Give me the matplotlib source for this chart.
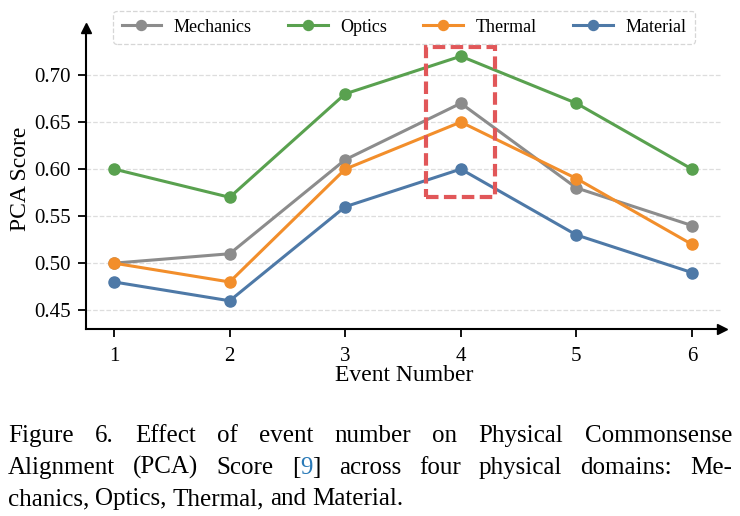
import numpy as np
import matplotlib.pyplot as plt
from matplotlib.patches import Rectangle

plt.rcParams['font.family'] = ['Liberation Serif', 'DejaVu Serif']

events = [1, 2, 3, 4, 5, 6]
mechanics = [0.50, 0.51, 0.61, 0.67, 0.58, 0.54]
optics = [0.60, 0.57, 0.68, 0.72, 0.67, 0.60]
thermal = [0.50, 0.48, 0.60, 0.65, 0.59, 0.52]
material = [0.48, 0.46, 0.56, 0.60, 0.53, 0.49]
yticks = [0.45, 0.50, 0.55, 0.60, 0.65, 0.70]

series = [
    ("Mechanics", mechanics, "#8c8c8c"),
    ("Optics", optics, "#59a14f"),
    ("Thermal", thermal, "#f28e2b"),
    ("Material", material, "#4e79a7"),
]

caption = [
    "Figure 6.  Effect of event number on Physical Commonsense",
    "Alignment (PCA) Score [9] across four physical domains: Me-",
    "chanics, Optics, Thermal, and Material.",
]

W, H = 740, 516
fig = plt.figure(figsize=(W / 100, H / 100), dpi=100)
ax = fig.add_axes([86 / W, (H - 329) / H, (722 - 86) / W, 301 / H])

for name, vals, col in series:
    ax.plot(events, vals, '-o', color=col, lw=2.2, ms=8, label=name)

ax.add_patch(Rectangle((3.7, 0.57), 0.6, 0.16, fill=False, ec="#e15759",
                       lw=3, ls=(0, (3, 1.3)), zorder=5))

ax.set_xlim(0.757, 6.26)
ax.set_ylim(0.43, 0.75)
ax.set_xticks(events)
ax.set_yticks(yticks)
ax.set_yticklabels([f"{v:.2f}" for v in yticks])
ax.tick_params(labelsize=15, length=6, width=1.3, pad=5)
ax.tick_params(axis='x', pad=7)
ax.grid(axis='y', ls='--', color='#dddddd', lw=0.9)
ax.set_axisbelow(True)
for s in ['top', 'right']:
    ax.spines[s].set_visible(False)
for s in ['left', 'bottom']:
    ax.spines[s].set_linewidth(1.5)

# arrow heads on the axes
ax.plot(1, 0, ">k", ms=7, transform=ax.transAxes, clip_on=False)
ax.plot(0, 1, "^k", ms=7, transform=ax.transAxes, clip_on=False)

ax.set_xlabel("Event Number", fontsize=17, labelpad=-1)
ax.set_ylabel("PCA Score", fontsize=17, labelpad=2)

leg = ax.legend(loc='upper center', bbox_to_anchor=(0.5, 1.088), ncol=4,
                fontsize=13, frameon=True, handlelength=2.2, columnspacing=2.0,
                borderpad=0.45, handletextpad=0.7, markerscale=0.9)
leg.get_frame().set_linestyle('--')
leg.get_frame().set_edgecolor('#cccccc')
leg.get_frame().set_linewidth(0.9)
leg.set_zorder(10)

# justified caption
fig.canvas.draw()
r = fig.canvas.get_renderer()
x0, x1 = 8 / W, 732 / W
ys = [1 - 442 / H, 1 - 474 / H, 1 - 505 / H]
fs = 18
for i, line in enumerate(caption):
    words = [w for w in line.split(" ") if w]
    texts = []
    groups = []
    for w in words:
        if w == "[9]":
            g = []
            for part, col in (("[", "black"), ("9", "#2a7ab8"), ("]", "black")):
                g.append(len(texts))
                texts.append(fig.text(0, ys[i], part, fontsize=fs, color=col))
            groups.append(g)
        else:
            groups.append([len(texts)])
            texts.append(fig.text(0, ys[i], w, fontsize=fs))
    widths = [t.get_window_extent(r).width / fig.bbox.width for t in texts]
    gw = [sum(widths[k] for k in g) for g in groups]
    if i < len(caption) - 1:
        gap = (x1 - x0 - sum(gw)) / (len(groups) - 1)
    else:
        gap = 6 / W
    x = x0
    for g, w in zip(groups, gw):
        xx = x
        for k in g:
            texts[k].set_x(xx)
            xx += widths[k]
        x += w + gap

fig.savefig("out.png", dpi=100)
